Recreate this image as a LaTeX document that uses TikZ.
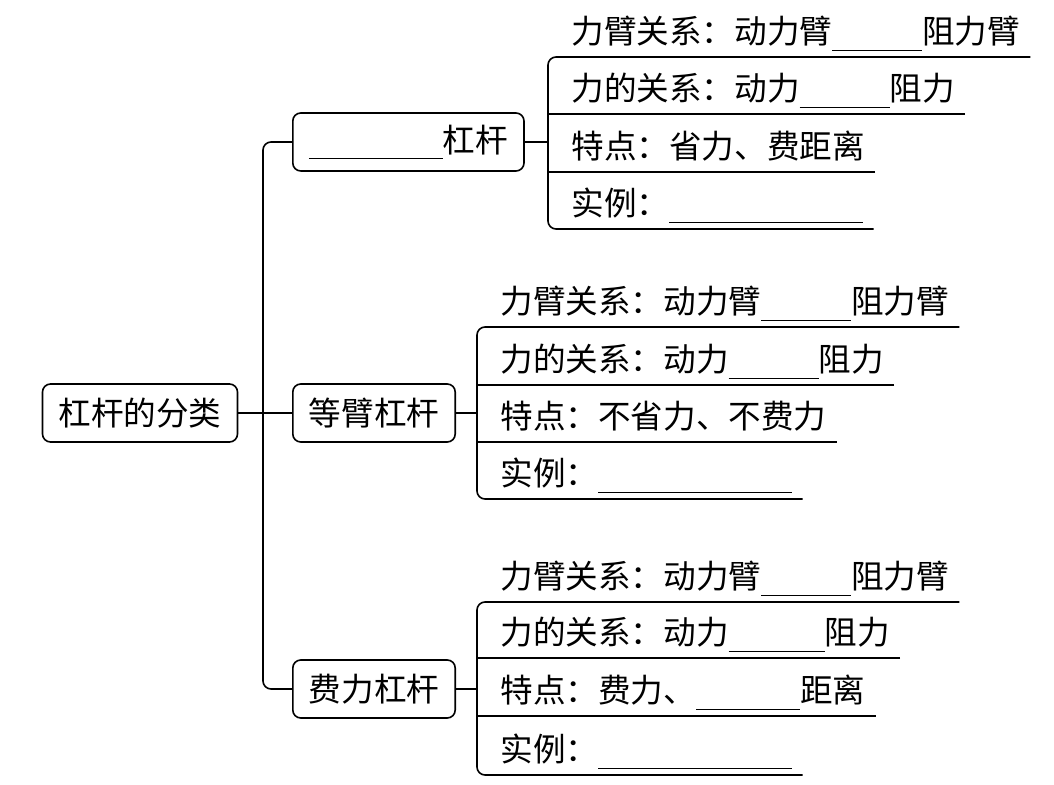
\documentclass[tikz,border=0pt]{standalone}
\usepackage{fontspec}
\newfontfamily\cjk{Noto Sans CJK SC}
\newcommand{\blank}[1]{\rule[-0.22em]{#1}{0.5pt}}

\begin{document}
\begin{tikzpicture}[
  x=0.5pt, y=-0.5pt,
  every node/.style={font=\cjk\fontsize{16.3}{20}\selectfont},
  box/.style={rectangle,draw,line width=0.8pt,rounded corners=4pt,inner xsep=8pt,minimum height=29pt},
  item/.style={anchor=south west,inner xsep=5pt,inner ysep=2.5pt,text depth=4pt},
  link/.style={line width=0.8pt},
  bus/.style={line width=0.8pt,rounded corners=4pt}]
    \useasboundingbox (0,0) rectangle (1054,785);
    % Root and classes
    \node[box] (root) at (140,413) {杠杆的分类};
    \node[box,anchor=west] (cls1) at (292,142) {\blank{67pt}杠杆};
    \node[box,anchor=west] (cls2) at (292,413) {等臂杠杆};
    \node[box,anchor=west] (cls3) at (292,689) {费力杠杆};
    \coordinate (m) at (263,413);
    \coordinate (j1) at (548,142);
    \coordinate (j2) at (477,413);
    \coordinate (j3) at (477,689);
    % Items
    \node[item] (p1) at (561,57) {力臂关系：动力臂\blank{45pt}阻力臂};
    \node[item] (p2) at (561,114) {力的关系：动力\blank{45pt}阻力};
    \node[item] (p3) at (561,172) {特点：省力、费距离};
    \node[item] (p4) at (561,229) {实例：\blank{97pt}};
    \node[item] (q1) at (490,327) {力臂关系：动力臂\blank{45pt}阻力臂};
    \node[item] (q2) at (490,385) {力的关系：动力\blank{45pt}阻力};
    \node[item] (q3) at (490,442) {特点：不省力、不费力};
    \node[item] (q4) at (490,499) {实例：\blank{97pt}};
    \node[item] (r1) at (490,602) {力臂关系：动力臂\blank{45pt}阻力臂};
    \node[item] (r2) at (490,658) {力的关系：动力\blank{48pt}阻力};
    \node[item] (r3) at (490,716) {特点：费力、\blank{52pt}距离};
    \node[item] (r4) at (490,775) {实例：\blank{97pt}};
    % Connectors
    \draw[link] (root) -- (cls2);
    \draw[bus] (cls1.west) -| (m) |- (cls3.west);
    \draw[link] (cls1.east) -- (j1);
    \draw[link] (cls2.east) -- (j2);
    \draw[link] (cls3.east) -- (j3);
    \draw[bus] (p1.south east) -| (j1) |- (p4.south east);
    \draw[bus] (q1.south east) -| (j2) |- (q4.south east);
    \draw[bus] (r1.south east) -| (j3) |- (r4.south east);
    \foreach \n/\j in {p2/j1,p3/j1,q2/j2,q3/j2,r2/j3,r3/j3}
      \draw[link] (\n.south east) -- (\n.south east -| \j);
\end{tikzpicture}
\end{document}
